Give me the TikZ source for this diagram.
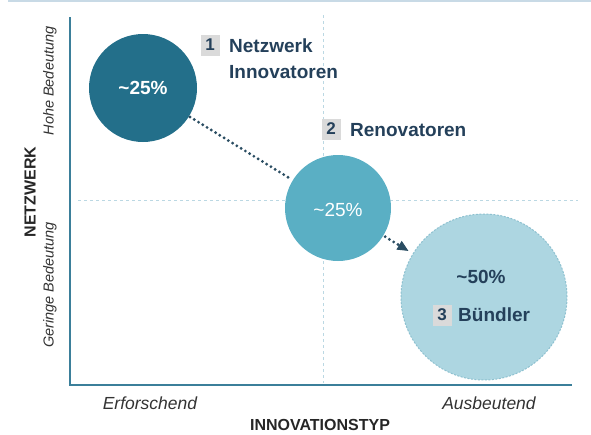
\documentclass[tikz,border=0pt]{standalone}
\usepackage{fontspec}
\setmainfont{Liberation Sans}
\usetikzlibrary{arrows.meta}
\definecolor{cdark}{HTML}{236F8A}
\definecolor{cmid}{HTML}{5AAFC4}
\definecolor{clight}{HTML}{ADD6E1}
\definecolor{cedge}{HTML}{8EC1D0}
\definecolor{caxis}{HTML}{3B7F9A}
\definecolor{cgrid}{HTML}{BBD8E3}
\definecolor{ctext}{HTML}{24405A}
\definecolor{cbox}{HTML}{DADADA}
\definecolor{carrow}{HTML}{2A4D62}
\definecolor{ctop}{HTML}{C8DAE6}
\tikzset{
  bubble/.style={circle, inner sep=0pt, text=white, font=\bfseries\fontsize{19}{22}\selectfont},
  numbox/.style={fill=cbox, inner sep=0pt, minimum width=19pt, minimum height=21pt, text=ctext, font=\bfseries\fontsize{17}{20}\selectfont},
  lbl/.style={anchor=west, inner sep=0pt, text=ctext, font=\bfseries\fontsize{19}{22}\selectfont},
  axlbl/.style={inner sep=0pt, text=black!80, font=\itshape\fontsize{17.5}{20}\selectfont},
  ylbl/.style={inner sep=0pt, rotate=90, text=black!80, font=\itshape\fontsize{14.5}{17}\selectfont},
  axtitle/.style={inner sep=0pt, text=black!85, font=\bfseries\fontsize{16}{19}\selectfont},
  gridline/.style={cgrid, line width=1pt, dash pattern=on 3pt off 3pt},
  flow/.style={carrow, line width=3.2pt, line cap=round, dash pattern=on 0pt off 5pt}
}
\begin{document}
\begin{tikzpicture}[x=1pt,y=-1pt]
\useasboundingbox (0,0) rectangle (591,434);
% top rule
\draw[ctop, line width=2pt] (8,1) -- (591,1);
% grid lines
\draw[gridline] (323,15) -- (323,383);
\draw[gridline] (78,200) -- (578,200);
% circles
\node[bubble, minimum size=108pt, fill=cdark] (c1) at (143,88) {\textasciitilde25\%};
\node[bubble, minimum size=106pt, fill=cmid] (c2) at (338,208) {};
\node[bubble, minimum size=166pt, fill=clight, draw=cedge, line width=1pt, dash pattern=on 2pt off 1.5pt] (c3) at (484,297) {};
\node[inner sep=0pt, text=white, font=\fontsize{19}{22}\selectfont] (p2) at (338,210) {\textasciitilde25\%};
% axes
\draw[caxis, line width=2.6pt] (70,17) -- (70,385) -- (572,385);
% flow connectors
\draw[flow, shorten <=1pt, shorten >=1pt] (c1) -- (c2);
\draw[flow, shorten <=2pt, shorten >=12pt] (c2) -- (c3);
\path (c2) -- (c3) coordinate[pos=0.5] (mid);
\draw[carrow, line width=1pt, -{Triangle[length=11pt,width=10pt]}, shorten >=5pt] (mid) -- (c3);
% labels
\node[numbox] (b1) at (210,45) {1};
\node[lbl] (t1) at (229,46) {Netzwerk};
\node[lbl] (t1b) at (229,72) {Innovatoren};
\node[numbox] (b2) at (331,129) {2};
\node[lbl] (t2) at (350,130) {Renovatoren};
\node[inner sep=0pt, text=ctext, font=\bfseries\fontsize{19}{22}\selectfont] (p3) at (481,277) {\textasciitilde50\%};
\node[numbox] (b3) at (442,315) {3};
\node[lbl] (t3) at (458,315) {Bündler};
% axis labels
\node[axlbl] (xl) at (150,403) {Erforschend};
\node[axlbl] (xr) at (489,403) {Ausbeutend};
\node[axtitle] (xt) at (320,425) {INNOVATIONSTYP};
\node[axtitle, rotate=90] (yt) at (30,192) {NETZWERK};
\node[ylbl] (yh) at (50,81) {Hohe Bedeutung};
\node[ylbl] (yg) at (50,285) {Geringe Bedeutung};
\end{tikzpicture}
\end{document}
